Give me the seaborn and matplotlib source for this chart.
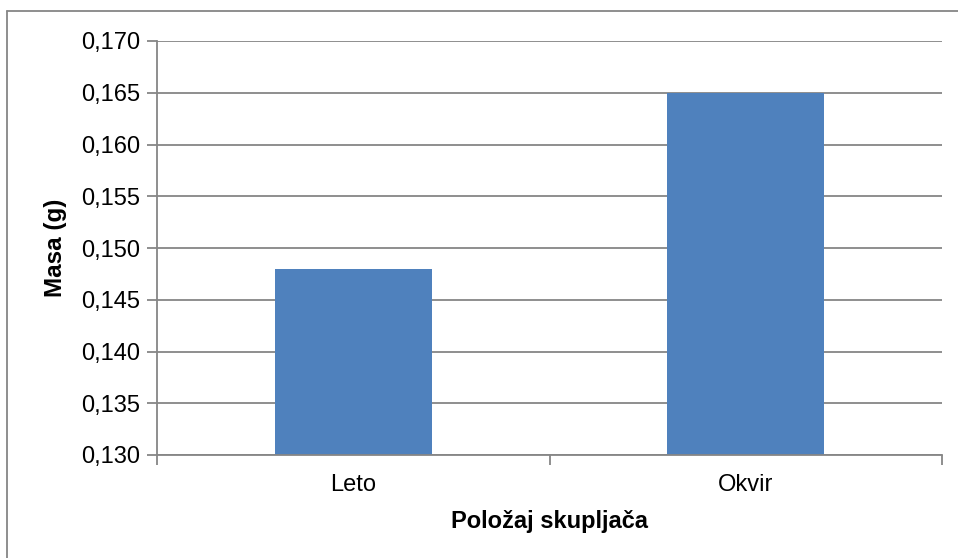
import matplotlib
matplotlib.use("Agg")
import matplotlib.pyplot as plt
import matplotlib.ticker as mticker
import matplotlib.lines as mlines
import seaborn as sns
import pandas as pd

categories = ["Leto", "Okvir"]
values = [0.148, 0.165]
y_ticks = [0.130, 0.135, 0.140, 0.145, 0.150, 0.155, 0.160, 0.165, 0.170]

sns.set_theme(style="white")
plt.rcParams['font.family'] = ['Liberation Sans', 'DejaVu Sans']
plt.rcParams['text.color'] = 'black'
plt.rcParams['axes.labelcolor'] = 'black'

df = pd.DataFrame({"cat": categories, "val": values})

fig = plt.figure(figsize=(9.58, 5.58), dpi=100)
ax = fig.add_axes([157/958, 1-455/558, (942-157)/958, (455-41)/558])

sns.barplot(data=df, x="cat", y="val", color="#4F81BD", saturation=1, width=0.4, ax=ax)
for p in ax.patches:
    p.set_edgecolor("none")

ax.set_ylim(0.130, 0.170)
ax.set_xlim(-0.5, 1.5)
ax.set_yticks(y_ticks)
ax.yaxis.set_major_formatter(mticker.FuncFormatter(lambda v, _: f"{v:.3f}".replace(".", ",")))
ax.grid(axis="y", color="#868686", linewidth=1.3)
ax.set_axisbelow(True)

for s in ["top", "right"]:
    ax.spines[s].set_visible(False)
for s in ["left", "bottom"]:
    ax.spines[s].set_color("#868686")
    ax.spines[s].set_linewidth(1.3)

ax.set_xticks([0, 1])
ax.set_xticklabels(categories)
ax.tick_params(axis="x", which="major", length=0, labelsize=17, pad=14, labelcolor="black")
ax.set_xticks([-0.5, 0.5, 1.5], minor=True)
ax.tick_params(axis="x", which="minor", bottom=True, length=7, width=1.3, color="#868686", direction="out")
ax.tick_params(axis="y", left=True, length=7, width=1.3, color="#868686", direction="out",
               labelsize=17, labelcolor="black", pad=5)

ax.set_xlabel("Položaj skupljača", fontsize=17, fontweight="bold", labelpad=10, color="black")
ax.set_ylabel("Masa (g)", fontsize=17.5, fontweight="bold", labelpad=10, color="black")

# outer chart-area border (only top and left visible in the cropped reference)
fig.lines.append(mlines.Line2D([7/958, 1.0], [1-11/558, 1-11/558], transform=fig.transFigure,
                               color="#868686", linewidth=1.3))
fig.lines.append(mlines.Line2D([7/958, 7/958], [0.0, 1-11/558], transform=fig.transFigure,
                               color="#868686", linewidth=1.3))

fig.savefig("out.png", dpi=100)
